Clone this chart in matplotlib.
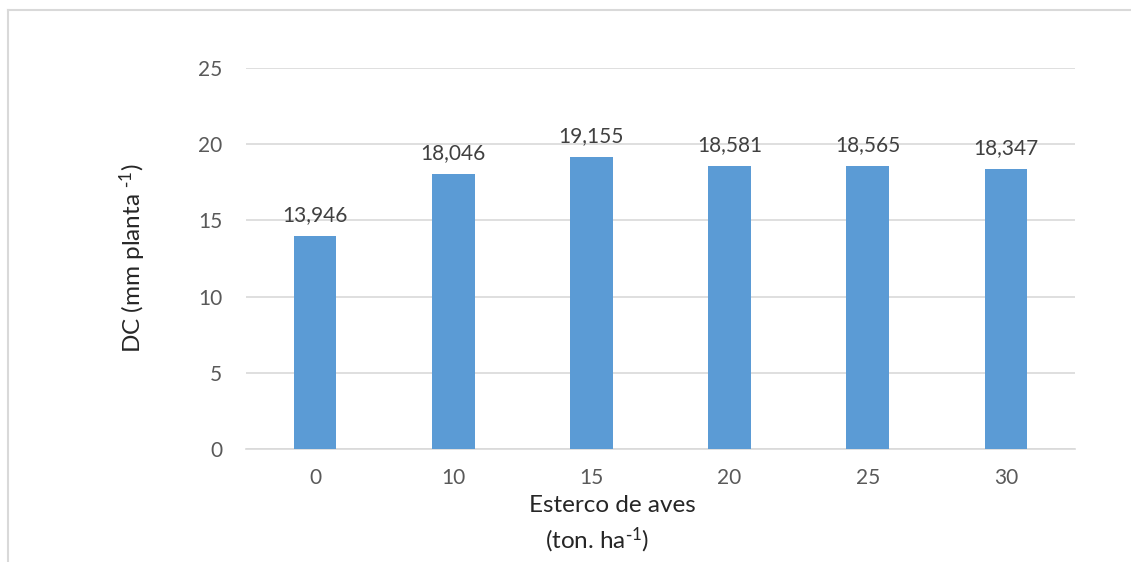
import matplotlib.pyplot as plt
import numpy as np

# data
doses = ['0', '10', '15', '20', '25', '30']
dc_values = [13.946, 18.046, 19.155, 18.581, 18.565, 18.347]
value_labels = ['13,946', '18,046', '19,155', '18,581', '18,565', '18,347']
y_ticks = [0, 5, 10, 15, 20, 25]

plt.rcParams['font.family'] = ['Lato', 'DejaVu Sans']
plt.rcParams['mathtext.default'] = 'regular'

W, H = 1131, 562
fig = plt.figure(figsize=(W / 100, H / 100), dpi=100)

# plot area in pixel coords: x 246..1075, y 68..449
ax = fig.add_axes([246 / W, 1 - 449 / H, (1075 - 246) / W, (449 - 68) / H])

x = np.arange(len(doses))
ax.bar(x, dc_values, width=0.31, color='#5B9BD5', zorder=3)

for xi, val, lab in zip(x, dc_values, value_labels):
    ax.annotate(lab, (xi, val), xytext=(0, 8), textcoords='offset points',
                ha='center', va='bottom', fontsize=15, color='#404040')

ax.set_xlim(-0.5, len(doses) - 0.5)
ax.set_ylim(0, 25)
ax.set_yticks(y_ticks)
ax.set_xticks(x)
ax.set_xticklabels(doses)
ax.yaxis.grid(True, color='#D9D9D9', linewidth=1.2, zorder=0)
ax.tick_params(axis='both', length=0, labelsize=15, colors='#595959')
ax.tick_params(axis='y', pad=17)
ax.tick_params(axis='x', pad=14)
for side in ['top', 'right', 'left']:
    ax.spines[side].set_visible(False)
ax.spines['bottom'].set_color('#D9D9D9')
ax.spines['bottom'].set_linewidth(1.2)

ax.set_ylabel(r'DC (mm planta $^{\text{-}1}$)', fontsize=17.5, color='#262626', labelpad=36)

fig.text(612 / W, 1 - 505 / H, 'Esterco de aves', ha='center', va='center',
         fontsize=17.5, color='#262626')
fig.text(597 / W, 1 - 540 / H, r'(ton. ha$^{\text{-}1}$)', ha='center', va='center',
         fontsize=17.5, color='#262626')

# chart frame: only left and top edges show in the crop
fig.add_artist(plt.Line2D([8 / W, 8 / W], [0, 1 - 10 / H], transform=fig.transFigure,
                          color='#D9D9D9', linewidth=1.5))
fig.add_artist(plt.Line2D([8 / W, 1], [1 - 10 / H, 1 - 10 / H], transform=fig.transFigure,
                          color='#D9D9D9', linewidth=1.5))

fig.savefig('out.png', dpi=100, facecolor='white')
